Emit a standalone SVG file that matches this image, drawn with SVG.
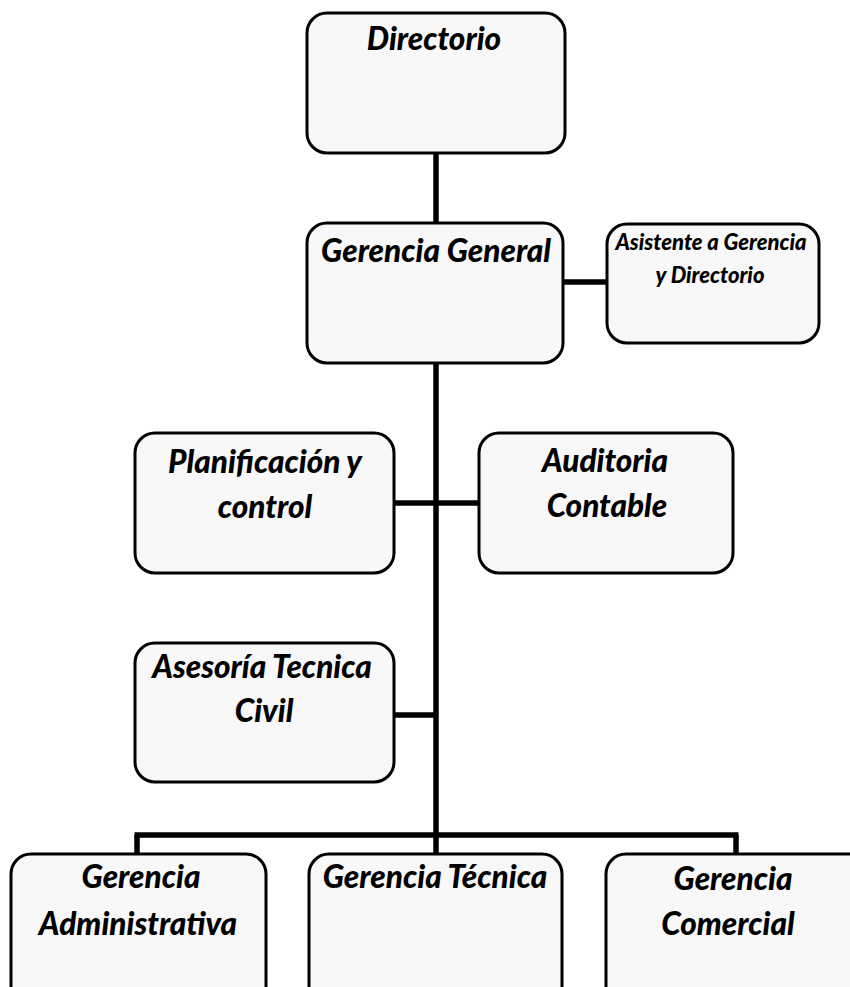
<svg xmlns="http://www.w3.org/2000/svg" width="850" height="987" viewBox="0 0 850 987">
<style>
.box{fill:#f8f8f8;stroke:#000;stroke-width:3}
.lbl{font-family:Lato,"Open Sans","Liberation Sans",sans-serif;font-weight:900;font-style:italic;font-size:31.5px;fill:#000;text-anchor:middle}
.sm{font-size:22px}
.con{stroke:#000;stroke-width:5.5;fill:none}
</style>
<rect width="850" height="987" fill="#fff"/>
<g id="connectors">
<line class="con" x1="436" y1="153" x2="436" y2="223"/>
<line class="con" x1="436" y1="363" x2="436" y2="837"/>
<line class="con" x1="563" y1="282" x2="607" y2="282"/>
<line class="con" x1="394" y1="503" x2="479" y2="503"/>
<line class="con" x1="394" y1="715" x2="436" y2="715"/>
<line class="con" x1="134.5" y1="835" x2="738.5" y2="835"/>
<line class="con" x1="137" y1="835" x2="137" y2="854"/>
<line class="con" x1="436" y1="835" x2="436" y2="854"/>
<line class="con" x1="736" y1="835" x2="736" y2="854"/>
<line class="con" x1="847" y1="938" x2="847" y2="987"/>
</g>
<g id="directorio">
<rect class="box" x="307" y="13" width="258" height="140" rx="20"/>
<text class="lbl" x="434" y="50">Directorio</text>
</g>
<g id="gerencia-general">
<rect class="box" x="307" y="223" width="256" height="140" rx="20"/>
<text class="lbl" x="436" y="262">Gerencia General</text>
</g>
<g id="asistente">
<rect class="box" x="607" y="224" width="212" height="119" rx="20"/>
<text class="lbl sm" x="711" y="250">Asistente a Gerencia</text>
<text class="lbl sm" x="710" y="283">y Directorio</text>
</g>
<g id="planificacion">
<rect class="box" x="135" y="433" width="259" height="140" rx="20"/>
<text class="lbl" x="265" y="473">Planificación y</text>
<text class="lbl" x="265" y="518">control</text>
</g>
<g id="auditoria">
<rect class="box" x="479" y="433" width="254" height="140" rx="20"/>
<text class="lbl" x="605" y="472">Auditoria</text>
<text class="lbl" x="607" y="517">Contable</text>
</g>
<g id="asesoria">
<rect class="box" x="135" y="643" width="259" height="139" rx="20"/>
<text class="lbl" x="262" y="678">Asesoría Tecnica</text>
<text class="lbl" x="264" y="722">Civil</text>
</g>
<g id="gerencia-administrativa">
<rect class="box" x="11" y="854" width="255" height="170" rx="20"/>
<text class="lbl" x="141" y="888">Gerencia</text>
<text class="lbl" x="138" y="935">Administrativa</text>
</g>
<g id="gerencia-tecnica">
<rect class="box" x="309" y="854" width="253" height="170" rx="20"/>
<text class="lbl" x="435" y="888">Gerencia Técnica</text>
</g>
<g id="gerencia-comercial">
<rect class="box" x="606" y="854" width="262" height="170" rx="20"/>
<text class="lbl" x="733" y="890">Gerencia</text>
<text class="lbl" x="728" y="935">Comercial</text>
</g>
</svg>
